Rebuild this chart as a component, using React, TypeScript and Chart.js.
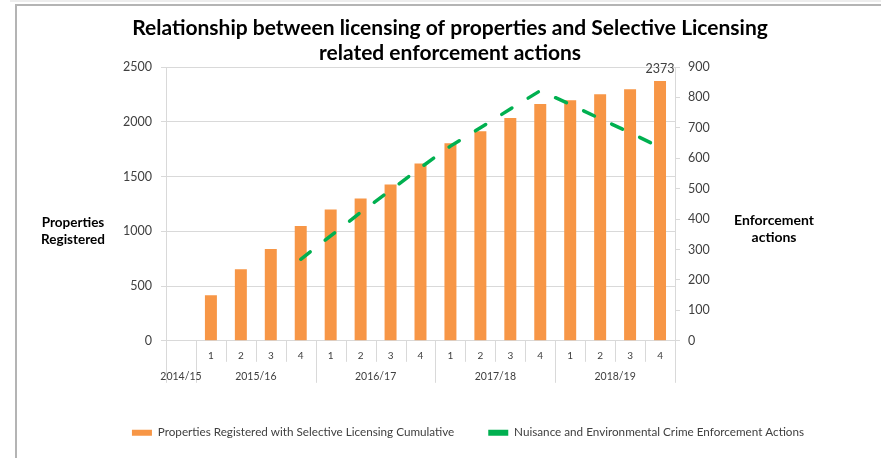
import React, { useEffect, useRef } from "react";
import { Chart, registerables } from "chart.js";

Chart.register(...registerables);

const quarterLabels = ["", "1", "2", "3", "4", "1", "2", "3", "4", "1", "2", "3", "4", "1", "2", "3", "4"];
const yearLabels = ["2014/15", "2015/16", "2016/17", "2017/18", "2018/19"];
const yearSpans = [1, 4, 4, 4, 4];
const registered = [null, 417, 653, 838, 1048, 1200, 1300, 1428, 1620, 1803, 1914, 2035, 2163, 2196, 2251, 2297, 2373];
const enforcement = [null, null, null, null, 268, 345, 422, 495, 569, 640, 700, 762, 822, 777, 730, 684, 636];
const titleLines = ["Relationship between licensing of properties and Selective Licensing", "related enforcement actions"];
const leftAxisTitle = ["Properties", "Registered"];
const rightAxisTitle = ["Enforcement", "actions"];
const seriesNames = ["Properties Registered with Selective Licensing Cumulative", "Nuisance and Environmental Crime Enforcement Actions"];

const FONT = "Lato";
const ORANGE = "#F79646";
const GREEN = "#00B050";
const GRID = "#D9D9D9";
const TEXT = "#404040";

const extrasPlugin = {
  id: "extras",
  afterLayout(chart: any) {
    const lg = chart.legend;
    if (lg) {
      lg.left += 18;
      lg.right += 18;
    }
  },
  afterDraw(chart: any) {
    const { ctx, chartArea } = chart;
    const x = chart.scales.x;
    const step = x.getPixelForValue(1) - x.getPixelForValue(0);
    const start = x.getPixelForValue(0) - step / 2;
    const top = chartArea.bottom;
    const boundaries = new Set<number>();
    let acc = 0;
    boundaries.add(0);
    yearSpans.forEach((s) => {
      acc += s;
      boundaries.add(acc);
    });
    ctx.save();
    ctx.strokeStyle = GRID;
    ctx.lineWidth = 1;
    for (let i = 0; i <= quarterLabels.length; i++) {
      const bx = Math.round(start + i * step) + 0.5;
      const len = boundaries.has(i) ? 42 : 21;
      ctx.beginPath();
      ctx.moveTo(bx, top);
      ctx.lineTo(bx, top + len);
      ctx.stroke();
    }
    ctx.fillStyle = TEXT;
    ctx.font = `10.5px ${FONT}`;
    ctx.textAlign = "center";
    ctx.textBaseline = "middle";
    let pos = 0;
    yearLabels.forEach((lab, i) => {
      const cx = start + (pos + yearSpans[i] / 2) * step;
      ctx.fillText(lab, cx, top + 36);
      pos += yearSpans[i];
    });

    // axis titles
    ctx.fillStyle = "#000";
    ctx.font = `bold 13.5px ${FONT}`;
    const midY = (chartArea.top + chartArea.bottom) / 2;
    leftAxisTitle.forEach((t, i) => ctx.fillText(t, chartArea.left - 93, midY + 19 + i * 17));
    ctx.font = `bold 14px ${FONT}`;
    rightAxisTitle.forEach((t, i) => ctx.fillText(t, chartArea.right + 99, midY + 17 + i * 17));

    // data label on last bar
    const meta = chart.getDatasetMeta(0);
    const last = registered.length - 1;
    const el = meta.data[last];
    if (el) {
      ctx.fillStyle = TEXT;
      ctx.font = `12.5px ${FONT}`;
      ctx.fillText(String(registered[last]), el.x, el.y - 12);
    }
    ctx.restore();
  },
};

export default function App() {
  const ref = useRef<HTMLCanvasElement | null>(null);
  useEffect(() => {
    if (!ref.current) return;
    const chart = new Chart(ref.current, {
      type: "bar",
      data: {
        labels: quarterLabels,
        datasets: [
          {
            type: "bar",
            label: seriesNames[0],
            data: registered as any,
            backgroundColor: ORANGE,
            barPercentage: 0.4,
            categoryPercentage: 1,
            yAxisID: "y",
            order: 2,
          },
          {
            type: "line",
            label: seriesNames[1],
            data: enforcement as any,
            borderColor: GREEN,
            backgroundColor: GREEN,
            borderWidth: 3.5,
            borderDash: [12, 19],
            borderCapStyle: "round",
            pointRadius: 0,
            fill: false,
            tension: 0,
            yAxisID: "y1",
            order: 1,
          } as any,
        ],
      },
      options: {
        animation: false,
        responsive: false,
        devicePixelRatio: 1,
        layout: { padding: { left: 19, right: 0, top: 0, bottom: 9.5 } },
        plugins: {
          tooltip: { enabled: false },
          title: {
            display: true,
            text: titleLines,
            color: "#000",
            font: { family: FONT, size: 21, weight: "bold", lineHeight: 1.2 },
            padding: { top: 15.5, bottom: 1.1 },
          },
          legend: {
            position: "bottom",
            labels: {
              font: { family: FONT, size: 11.7 },
              color: TEXT,
              boxWidth: 20,
              boxHeight: 6,
              padding: 34,
              generateLabels: (c: any) =>
                c.data.datasets.map((ds: any, i: number) => ({
                  text: ds.label,
                  fillStyle: i === 0 ? ORANGE : GREEN,
                  strokeStyle: i === 0 ? ORANGE : GREEN,
                  lineWidth: 0,
                  hidden: false,
                  datasetIndex: i,
                  fontColor: TEXT,
                })),
            },
          },
        },
        scales: {
          x: {
            type: "category",
            offset: true,
            grid: { display: false, drawTicks: false },
            border: { display: false },
            ticks: { font: { family: FONT, size: 10 }, color: TEXT, padding: 9, maxRotation: 0, autoSkip: false },
            afterFit: (s: any) => {
              s.height = 52;
            },
          },
          y: {
            position: "left",
            min: 0,
            max: 2500,
            ticks: {
              stepSize: 500,
              font: { family: FONT, size: 12.5 },
              color: TEXT,
              padding: 9,
              callback: (v: any) => String(v),
            },
            grid: { color: GRID, tickLength: 5 },
            border: { color: GRID },
            afterFit: (s: any) => {
              s.width = 147;
            },
          },
          y1: {
            position: "right",
            min: 0,
            max: 900,
            ticks: {
              stepSize: 100,
              font: { family: FONT, size: 12.5 },
              color: TEXT,
              padding: 8,
              callback: (v: any) => String(v),
            },
            grid: { color: GRID, tickLength: 5, drawOnChartArea: false },
            border: { color: GRID },
            afterFit: (s: any) => {
              s.width = 206;
            },
          },
        },
      },
      plugins: [extrasPlugin],
    });
    return () => chart.destroy();
  }, []);

  return (
    <div style={{ position: "relative", width: 881, height: 458, background: "#fff", overflow: "hidden" }}>
      <style>{`body{margin:0}`}</style>
      <canvas ref={ref} width={881} height={458} style={{ position: "absolute", left: 0, top: 0, width: 881, height: 458 }} />
      <div style={{ position: "absolute", left: 10, top: 0, right: 0, height: 2, background: "#EDEDED" }} />
      <div
        style={{
          position: "absolute",
          left: 15,
          top: 4,
          right: -2,
          bottom: -2,
          borderTop: "2px solid #B4B4B4",
          borderLeft: "2px solid #B4B4B4",
          pointerEvents: "none",
        }}
      />
    </div>
  );
}
